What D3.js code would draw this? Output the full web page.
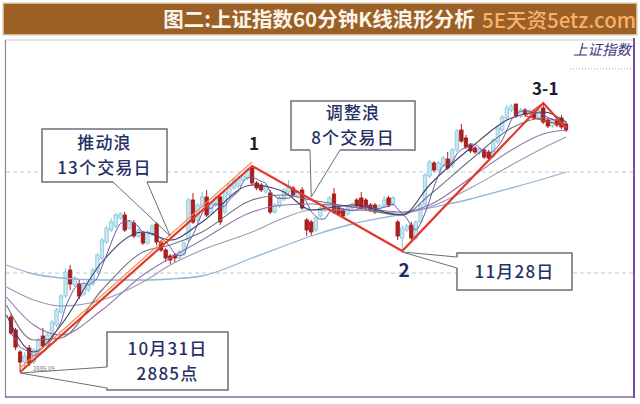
<!DOCTYPE html>
<html><head><meta charset="utf-8">
<script src="https://cdn.jsdelivr.net/npm/d3@7"></script>
<style>
html,body{margin:0;padding:0;background:#fff;}
svg{display:block;}
text{font-family:"Noto Sans CJK SC","Noto Sans",sans-serif;}
</style></head><body>
<svg id="c" width="640" height="404"></svg>
<script>
// ---------- data ----------
const titleText = "图二:上证指数60分钟K线浪形分析";
const watermark = "5E天资5etz.com";
const indexName = "上证指数";

const opens  = [2940,2927,2905,2895,2909,2895,2905,2921,2911,2921,2932,2945,2961,2987,2972,2973,2963,2967,2973,2985,
                2999,3015,3027,3031,3039,3042,3029,3034,3021,3024,3014,3023,3033,3015,3007,3001,3002,2999,3003,3017,
                3057,3037,3051,3060,3044,3052,3060,3045,3062,3069,3071,3077,3079,3089,3074,3072,3065,3064,3045,3051,
                3058,3065,3069,3061,3067,3037,3035,3027,3041,3047,3051,3063,3049,3047,3043,3049,3057,3059,3057,3052,
                3052,3047,3051,3059,3053,3035,3019,3027,3032,3019,3035,3052,3081,3094,3087,3092,3098,3091,3107,3127,
                3119,3112,3109,3104,3107,3105,3101,3115,3127,3139,3147,3153,3141,3147,3143,3145,3139,3149,3137,3131,
                3137,3139,3133];
const closes = [2924,2910,2895,2901,2894,2907,2917,2911,2922,2935,2947,2961,2985,2973,2979,2961,2972,2975,2987,3002,
                3017,3029,3035,3042,3043,3027,3035,3021,3027,3014,3025,3031,3015,3007,2999,2997,2999,3005,3014,3057,
                3035,3052,3060,3042,3054,3059,3035,3065,3072,3077,3079,3081,3087,3074,3069,3067,3071,3045,3052,3059,
                3067,3071,3062,3065,3049,3027,3025,3039,3049,3052,3059,3045,3043,3041,3049,3053,3051,3049,3050,3047,
                3045,3051,3057,3052,3059,3021,3029,3031,3019,3035,3052,3082,3095,3087,3094,3099,3089,3107,3126,3116,
                3110,3106,3105,3108,3100,3099,3117,3129,3140,3149,3151,3141,3147,3143,3146,3139,3147,3135,3131,3137,
                3132,3130,3127];
const highs  = [2943,2929,2907,2905,2912,2909,2919,2929,2924,2937,2949,2963,2989,2992,2981,2977,2974,2977,2989,3004,
                3019,3031,3039,3044,3045,3045,3037,3037,3029,3026,3027,3033,3035,3017,3009,3003,3004,3007,3016,3059,
                3064,3054,3065,3067,3056,3061,3063,3067,3074,3079,3081,3083,3089,3091,3076,3074,3073,3067,3054,3061,
                3069,3077,3071,3067,3070,3039,3037,3041,3051,3054,3061,3069,3051,3049,3051,3055,3059,3065,3059,3054,
                3054,3053,3061,3061,3061,3037,3032,3033,3035,3037,3054,3084,3097,3096,3096,3101,3105,3109,3128,3133,
                3122,3114,3111,3110,3109,3107,3119,3131,3142,3152,3153,3153,3149,3149,3148,3147,3149,3154,3139,3139,
                3139,3142,3136];
const lows   = [2922,2907,2885,2889,2891,2893,2903,2909,2909,2919,2930,2943,2959,2967,2970,2958,2961,2965,2971,2983,
                2997,3013,3025,3029,3037,3025,3027,3019,3019,3012,3012,3021,3012,3005,2995,2993,2994,2997,3001,3015,
                3033,3035,3049,3040,3042,3050,3032,3043,3060,3067,3069,3075,3077,3072,3067,3065,3063,3043,3043,3049,
                3056,3063,3060,3059,3047,3021,3021,3025,3039,3045,3049,3043,3041,3039,3041,3047,3049,3047,3048,3045,
                3043,3045,3049,3050,3051,3017,3006,3025,3017,3017,3033,3050,3079,3085,3085,3090,3087,3089,3105,3114,
                3108,3104,3103,3102,3098,3097,3099,3113,3125,3137,3145,3139,3139,3141,3141,3137,3137,3133,3129,3129,
                3130,3128,3125];

// moving averages: [bar, value]
const maLong  = [[-1,2992],[5,2983],[11,2979],[20,2977],[29,2977],[35,2978],[42,2981],[53,2999],[60,3011],[66,3021],[75,3033],[86,3043],[92,3049],[101,3058],[110,3069],[117,3078],[122,3085]];
const ma60    = [[-1,2970],[5,2957],[11,2951],[20,2957],[29,2975],[35,2992],[42,3007],[53,3025],[60,3039],[66,3047],[75,3047],[86,3044],[92,3050],[101,3069],[110,3092],[117,3109],[122,3120]];
const ma30    = [[-1,2960],[5,2932],[11,2922],[20,2947],[29,2982],[35,2999],[42,3017],[53,3045],[60,3052],[66,3053],[75,3050],[86,3045],[92,3052],[101,3079],[110,3107],[117,3123],[122,3127]];
const ma20    = [[-1,2952],[5,2917],[11,2919],[20,2967],[29,3005],[35,3012],[42,3025],[53,3057],[60,3062],[66,3057],[75,3050],[86,3042],[92,3062],[101,3097],[110,3129],[117,3139],[122,3133]];
const ma10    = [[-1,2942],[5,2905],[11,2932],[20,2995],[29,3025],[35,3017],[42,3035],[53,3072],[60,3065],[66,3047],[75,3052],[86,3042],[92,3072],[101,3109],[110,3139],[117,3145],[122,3135]];

const wavePts  = [[2,2885],[53,3091],[86,3006],[117,3154],[122,3129]];
const trendPts = [[2,2889],[53,3095]];
const triPts   = [[117,3154],[113,3141],[122,3131]];
const waveLabels = [{bar:53, price:3091, text:"1", dy:-16, fill:"#1c1c28", size:17},
                    {bar:86, price:3006, text:"2", dy:26, fill:"#22285a", size:19},
                    {bar:117, price:3154, text:"3-1", dy:-8, fill:"#1c1c28", size:17}];
const gridPrices = [3085, 2984];
const lowText = "2885.09";

const callouts = [
  {lines:["推动浪","13个交易日"], box:[42,129,125,53], side:"bottom", a:113, b:147, tip:[35,3021]},
  {lines:["调整浪","8个交易日"],  box:[291,101,124,49], side:"bottom", a:310, b:340, tip:[66,3060]},
  {lines:["11月28日"],            box:[457,253,115,37], side:"left",   a:257, b:268, tip:[86,3005]},
  {lines:["10月31日","2885点"],    box:[107,332,121,58], side:"left",   a:367, b:388, tip:[2,2884]}
];

// ---------- drawing ----------
const svg = d3.select("#c");
const x = d3.scaleLinear().domain([0, closes.length-1]).range([11, 566]);
const y = d3.scaleLinear().domain([2861, 3216]).range([396, 41]);
const bars = d3.range(closes.length);

// banner
svg.append("rect").attr("x",0).attr("y",0).attr("width",640).attr("height",404).attr("fill","#fff");
svg.append("rect").attr("x",3).attr("y",3).attr("width",634).attr("height",32)
   .attr("fill","#9b6026").attr("stroke","#e6d6bf").attr("stroke-width",1.5);
svg.append("text").attr("x",319).attr("y",27).attr("text-anchor","middle")
   .attr("font-size",20.5).attr("font-weight",700).attr("fill","#fbf4ea").text(titleText);
svg.append("text").attr("x",482).attr("y",27.5).attr("text-anchor","start")
   .attr("font-size",20.5).attr("font-weight",500).attr("fill","#f8b06a").text(watermark);

// plot frame
svg.append("line").attr("x1",5).attr("x2",634).attr("y1",40).attr("y2",40).attr("stroke","#c9c9d3").attr("stroke-width",1);
svg.append("line").attr("x1",5.5).attr("x2",5.5).attr("y1",40).attr("y2",397).attr("stroke","#8a8a92").attr("stroke-width",1.2);
svg.append("line").attr("x1",5).attr("x2",635).attr("y1",397).attr("y2",397).attr("stroke","#7c679e").attr("stroke-width",1.6);
svg.append("line").attr("x1",634).attr("x2",634).attr("y1",38).attr("y2",398).attr("stroke","#7b4c9e").attr("stroke-width",2);

// grid
svg.selectAll(".grid").data(gridPrices).join("line")
   .attr("x1",6).attr("x2",633).attr("y1",d=>y(d)).attr("y2",d=>y(d))
   .attr("stroke","#b9c8dc").attr("stroke-width",1).attr("stroke-dasharray","4,3");

// index name
svg.append("text").attr("x",602).attr("y",55).attr("text-anchor","middle")
   .attr("font-size",14.5).attr("fill","#45387f").attr("font-style","italic").text(indexName);
svg.append("line").attr("x1",570).attr("x2",632).attr("y1",69).attr("y2",69)
   .attr("stroke","#a49ac0").attr("stroke-dasharray","1,2");

// candles
const bw = 3.4;
const up = i => closes[i] >= opens[i];
const g = svg.append("g");
g.selectAll(".wick").data(bars).join("line")
  .attr("x1",i=>x(i)).attr("x2",i=>x(i)).attr("y1",i=>y(highs[i])).attr("y2",i=>y(lows[i]))
  .attr("stroke",i=>up(i)?"#7fc3d8":"#b01e1e").attr("stroke-width",1);
g.selectAll(".body").data(bars).join("rect")
  .attr("x",i=>x(i)-bw/2).attr("width",bw)
  .attr("y",i=>y(Math.max(opens[i],closes[i])))
  .attr("height",i=>Math.max(1, Math.abs(y(opens[i])-y(closes[i]))))
  .attr("fill",i=>up(i)?"#c6e7f1":"#b31d1d")
  .attr("stroke",i=>up(i)?"#86c8dc":"#9e1818").attr("stroke-width",0.8);

// moving averages
const lineGen = d3.line().x(d=>x(d[0])).y(d=>y(d[1])).curve(d3.curveMonotoneX);
const ma5 = bars.map(i => [i, d3.mean(closes.slice(Math.max(0,i-4), i+1))]);
const maSeries = [
  {d:maLong, c:"#92b4d4", w:1.3},
  {d:ma60,   c:"#9b9bab", w:1.1},
  {d:ma30,   c:"#9474ac", w:1.1},
  {d:ma20,   c:"#72727f", w:1.1},
  {d:ma10,   c:"#3d3d62", w:1.1},
  {d:ma5,    c:"#6e52aa", w:1.0}
];
svg.selectAll(".ma").data(maSeries).join("path")
   .attr("d",s=>lineGen(s.d)).attr("fill","none")
   .attr("stroke",s=>s.c).attr("stroke-width",s=>s.w);

// wave lines
const straight = d3.line().x(d=>x(d[0])).y(d=>y(d[1]));
svg.append("path").attr("d",straight(trendPts)).attr("fill","none").attr("stroke","#f08a4a").attr("stroke-width",1.1);
svg.append("path").attr("d",straight(triPts)).attr("fill","none").attr("stroke","#e23a2c").attr("stroke-width",1.1);
svg.append("path").attr("d",straight(wavePts)).attr("fill","none").attr("stroke","#e3392b").attr("stroke-width",2.2);

svg.selectAll(".wl").data(waveLabels).join("text")
   .attr("x",d=>x(d.bar)+2).attr("y",d=>y(d.price)+d.dy).attr("text-anchor","middle")
   .attr("font-size",d=>d.size).attr("font-weight",700).attr("fill",d=>d.fill)
   .attr("font-family","Liberation Sans, Arial, sans-serif").text(d=>d.text);

svg.append("text").attr("x",33).attr("y",y(2885)-1).attr("font-size",6).attr("fill","#7a7a88").text(lowText);

// callouts
const stroke = "#6d6d7d";
const fs = 17, lh = 25;
callouts.forEach(c => {
  const [bx,by,bwid,bh] = c.box;
  const tx = x(c.tip[0]), ty = y(c.tip[1]);
  svg.append("rect").attr("x",bx).attr("y",by).attr("width",bwid).attr("height",bh)
     .attr("fill","#fff").attr("stroke",stroke).attr("stroke-width",1.5);
  let p1, p2;
  if (c.side === "bottom") { p1=[c.a, by+bh]; p2=[c.b, by+bh]; }
  else { p1=[bx, c.a]; p2=[bx, c.b]; }
  svg.append("line").attr("x1",p1[0]).attr("y1",p1[1]).attr("x2",p2[0]).attr("y2",p2[1])
     .attr("stroke","#fff").attr("stroke-width",2.4);
  svg.append("path").attr("d",`M${p1[0]},${p1[1]}L${tx},${ty}L${p2[0]},${p2[1]}`)
     .attr("fill","none").attr("stroke",stroke).attr("stroke-width",1);
  const n = c.lines.length;
  c.lines.forEach((s,k) => {
    svg.append("text").attr("x",bx+bwid/2).attr("y",by + bh/2 + (k-(n-1)/2)*lh + fs*0.36)
       .attr("text-anchor","middle").attr("font-size",fs).attr("font-weight",500)
       .attr("letter-spacing",1.2).attr("fill","#273066").text(s);
  });
});
</script>
</body></html>
